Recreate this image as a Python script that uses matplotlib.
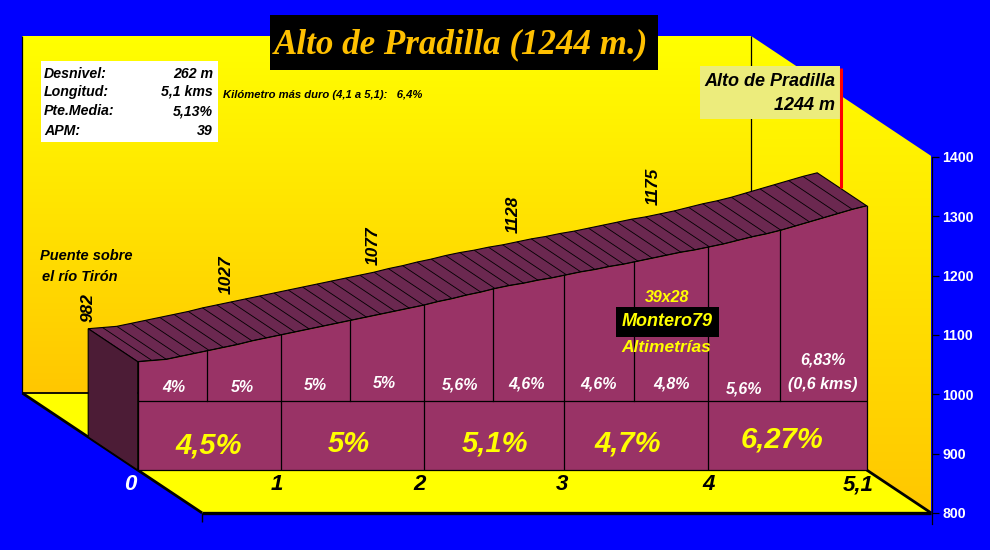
import numpy as np
import matplotlib
matplotlib.use("Agg")
import matplotlib.pyplot as plt
from matplotlib.patches import Polygon, Rectangle

# ---- data ----
km = [i / 10 for i in range(52)]
elevation = [982, 984, 986, 991, 996, 1001, 1006, 1011, 1017, 1022, 1027,
             1032, 1037, 1042, 1047, 1052, 1057, 1062, 1067, 1072, 1077,
             1083, 1088, 1094, 1099, 1105, 1110, 1114, 1119, 1123, 1128,
             1133, 1137, 1142, 1146, 1151, 1156, 1161, 1166, 1170, 1175,
             1180, 1186, 1192, 1197, 1203, 1210, 1217, 1224, 1231, 1238, 1244]
major_km = [1.0, 2.005, 2.985, 3.993]
half_km = [0.483, 1.488, 2.486, 3.473, 4.493]
km_ticks = [0, 1, 2, 3, 4, 5.1]
km_tick_labels = ["0", "1", "2", "3", "4", "5,1"]
elev_ticks = [800, 900, 1000, 1100, 1200, 1300, 1400]
peak_labels = ["982", "1027", "1077", "1128", "1175"]
half_pct = ["4%", "5%", "5%", "5%", "5,6%", "4,6%", "4,6%", "4,8%", "5,6%"]
km_pct = ["4,5%", "5%", "5,1%", "4,7%", "6,27%"]
stats_names = ["Desnivel:", "Longitud:", "Pte.Media:", "APM:"]
stats_values = ["262 m", "5,1 kms", "5,13%", "39"]

# ---- style ----
W, H = 990, 550
BLUE = "#0000FF"
FACE = "#993366"
TOP = "#6B2850"
SIDE = "#4C1C36"
BI = dict(family=["Liberation Sans", "DejaVu Sans"], weight="bold", style="italic")

fig = plt.figure(figsize=(9.9, 5.5), dpi=100, facecolor=BLUE)

X0, X1, Y0 = 137.7, 866.7, 470.0
SY = 0.595
KMPX = (X1 - X0) / 5.1

# backdrop layer: same km / metre scales as the front plane, spanning the figure
bg = fig.add_axes([0, 0, 1, 1], zorder=0)
bg.axis("off")
bg_xlim = (-X0 / KMPX, (W - X0) / KMPX)
bg_ylim = (800 - (H - Y0) / SY, 800 + Y0 / SY)

# full-figure pixel layer for labels
px = fig.add_axes([0, 0, 1, 1], zorder=5)
px.set_xlim(0, W); px.set_ylim(H, 0); px.axis("off")

# front plane of the profile: km on x, metres on y
ax = fig.add_axes([X0 / W, (H - Y0) / H, (X1 - X0) / W, 600 * SY / H], zorder=2)
ax.set_xlim(0, 5.1); ax.set_ylim(800, 1400); ax.axis("off")

DX, DY = -49.5 / KMPX, 33.0 / SY   # data shift for one unit of depth


def P(k, e, d=0.0):
    return (k + d * DX, e + d * DY)


BACK = 2.33
FRONT = -1.3


def gradient(poly, top_y, bot_y):
    g = np.linspace(0, 1, 256)[:, None]
    rgb = np.dstack([np.ones_like(g), 1 - g * 0.22, np.zeros_like(g)])
    xs = [p[0] for p in poly]
    im = bg.imshow(rgb, extent=[min(xs), max(xs), bot_y, top_y], aspect="auto", origin="upper")
    patch = Polygon(poly, closed=True, transform=bg.transData, fc="none", ec="none")
    bg.add_patch(patch)
    im.set_clip_path(patch)


TOPE, BASE = 1400, 800
back_wall = [P(0, TOPE, BACK), P(5.1, TOPE, BACK), P(5.1, BASE, BACK), P(0, BASE, BACK)]
right_wall = [P(5.1, TOPE, BACK), P(5.1, TOPE, FRONT), P(5.1, BASE, FRONT), P(5.1, BASE, BACK)]
floor = [P(0, BASE, BACK), P(5.1, BASE, BACK), P(5.1, BASE, FRONT), P(0, BASE, FRONT)]

gradient(back_wall, P(0, TOPE, BACK)[1], P(0, BASE, BACK)[1])
gradient(right_wall, P(0, TOPE, BACK)[1], P(0, BASE, FRONT)[1])
bg.set_xlim(*bg_xlim); bg.set_ylim(*bg_ylim)
ax.add_patch(Polygon(floor, fc="#FFFF00", ec="none", zorder=1.5, clip_on=False))


def seg(a, b, lw=0.8, z=2, c="k"):
    ax.plot([a[0], b[0]], [a[1], b[1]], color=c, lw=lw, zorder=z, clip_on=False,
            solid_capstyle="butt")


seg(P(0, TOPE, BACK), P(0, BASE, BACK), 0.9)
seg(P(5.1, TOPE, BACK), P(5.1, BASE, BACK), 0.9)
seg(P(0, BASE, BACK), P(5.1, BASE, BACK), 1.3)
seg(P(0, BASE, BACK), P(0, BASE, FRONT), 2.0)
seg(P(0, BASE, FRONT), P(5.1, BASE, FRONT), 2.4)
seg(P(5.1, BASE, 0), P(5.1, BASE, FRONT), 2.0)
seg(P(0, BASE, FRONT), P(0, BASE - 16, FRONT), 1.0)

# profile solid
k = np.array(km); e = np.array(elevation)
top_poly = [P(a, b, 0) for a, b in zip(k, e)] + [P(a, b, 1) for a, b in zip(k[::-1], e[::-1])]
ax.add_patch(Polygon(top_poly, fc=TOP, ec="k", lw=0.8, zorder=3, clip_on=False))
side = [P(0, e[0], 1), P(0, e[0], 0), P(0, BASE, 0), P(0, BASE, 1)]
ax.add_patch(Polygon(side, fc=SIDE, ec="k", lw=0.8, zorder=3, clip_on=False))
ax.fill_between(k, BASE, e, color=FACE, lw=0, zorder=3, clip_on=False)
ax.plot(k, e, color="k", lw=0.9, zorder=4, clip_on=False)
ax.plot([0, 0, 5.1, 5.1], [e[0], BASE, BASE, e[-1]], color="k", lw=0.9, zorder=4, clip_on=False)
for a, b in zip(k[1:-1], e[1:-1]):
    seg(P(a, b, 0), P(a, b, 1), 0.6, 4)

# section lines on the face
SPLIT = 916
ax.plot([0, 5.1], [SPLIT, SPLIT], color="k", lw=0.9, zorder=4)
for m in major_km:
    ax.plot([m, m], [BASE, np.interp(m, k, e)], color="k", lw=0.9, zorder=4)
for m in half_km:
    ax.plot([m, m], [SPLIT, np.interp(m, k, e)], color="k", lw=0.9, zorder=4)

# right value axis
ay = fig.add_axes([932 / W, (H - 513) / H, 7 / W, 356 / H], zorder=3)
ay.set_xlim(0, 1); ay.set_ylim(800, 1400)
ay.patch.set_visible(False)
for s in ["top", "bottom", "right"]:
    ay.spines[s].set_visible(False)
ay.spines["left"].set_color("k"); ay.spines["left"].set_linewidth(0.9)
ay.spines["left"].set_bounds(782, 1400)
ay.xaxis.set_visible(False)
ay.yaxis.tick_right()
ay.set_yticks(elev_ticks)
ay.tick_params(axis="y", direction="in", length=5.0, width=0.9, color="k", pad=2.5)
ay.set_yticklabels([str(v) for v in elev_ticks], color="white", fontsize=10.2,
                   family="Liberation Sans", weight="bold")

# x labels on the floor
xoff = [-7.5, -3.5, -4.5, -5, -1, -8.5]
for v, s, dx in zip(km_ticks, km_tick_labels, xoff):
    ax.annotate(s, (v, BASE), xytext=(dx, -15), textcoords="offset pixels", ha="center",
                va="center", fontsize=16, color="white" if s == "0" else "k",
                annotation_clip=False, zorder=6, **BI)

# elevation labels above the back edge
lx = [88, 226, 373, 513, 653]
ly = [308, 275, 246, 214, 186]
for s, x, y in zip(peak_labels, lx, ly):
    px.text(x, y, s, rotation=90, ha="center", va="center", fontsize=12.5, color="k", **BI)

# slope labels
for s, x, y in zip(half_pct, [174, 242, 315, 384, 460, 527, 599, 672, 744],
                   [388, 387, 385, 384, 385, 384, 384, 384, 389]):
    px.text(x, y, s, ha="center", va="center", fontsize=11.5, color="white", **BI)
px.text(823, 360, "6,83%", ha="center", va="center", fontsize=11.5, color="white", **BI)
px.text(823, 385, "(0,6 kms)", ha="center", va="center", fontsize=11.5, color="white", **BI)
for s, x, y in zip(km_pct, [209, 349, 495, 628, 782], [445, 444, 444, 443, 439]):
    px.text(x, y, s, ha="center", va="center", fontsize=21, color="#FFFF00", **BI)

# title
px.add_patch(Rectangle((270, 15), 388, 55, fc="k", ec="none"))
px.text(461.5, 45, "Alto de Pradilla (1244 m.)", ha="center", va="center", fontsize=25.2,
        color="#FFC000", family="Liberation Serif", weight="bold", style="italic")

# stats box
px.add_patch(Rectangle((41, 61), 177, 81, fc="white", ec="none"))
for s, v, y in zip(stats_names, stats_values, [74, 92, 111, 131]):
    px.text(44, y, s, ha="left", va="center", fontsize=10.2, color="k", **BI)
    px.text(213, y, v, ha="right", va="center", fontsize=10.2, color="k", **BI)
px.text(223, 95, "Kilómetro más duro (4,1 a 5,1):   6,4%", ha="left", va="center",
        fontsize=8.1, color="k", **BI)

px.text(86, 256, "Puente sobre", ha="center", va="center", fontsize=10.5, color="k", **BI)
px.text(80, 277, "el río Tirón", ha="center", va="center", fontsize=10.5, color="k", **BI)

# summit marker
px.plot([841, 841], [68, 188], color="#FF0000", lw=2.2, solid_capstyle="butt")
px.add_patch(Rectangle((700, 66), 139.5, 53, fc="#ECEC7C", ec="none"))
px.text(835, 82, "Alto de Pradilla", ha="right", va="center", fontsize=13, color="k", **BI)
px.text(835, 106, "1244 m", ha="right", va="center", fontsize=13, color="k", **BI)

# credits
px.text(667, 298, "39x28", ha="center", va="center", fontsize=11.5, color="#FFFF00", **BI)
px.add_patch(Rectangle((616, 307), 103, 30, fc="k", ec="none"))
px.text(667, 322, "Montero79", ha="center", va="center", fontsize=13, color="#FFFF00", **BI)
px.text(666, 347, "Altimetrías", ha="center", va="center", fontsize=12.5, color="#FFFF00", **BI)

fig.savefig("out.png", dpi=100, facecolor=BLUE)
